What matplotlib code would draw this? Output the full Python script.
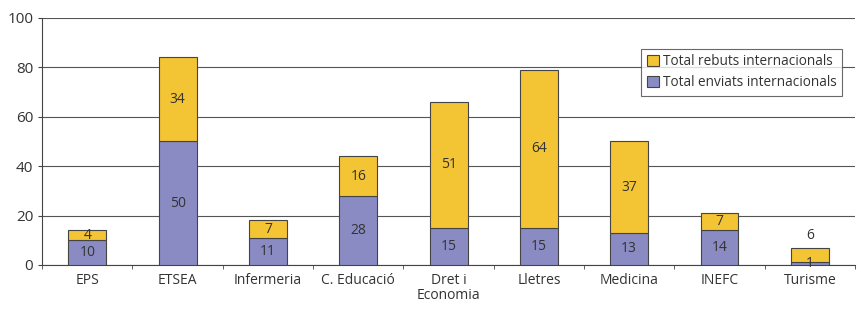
import numpy as np
import matplotlib.pyplot as plt

plt.rcParams['font.family'] = ['Open Sans', 'DejaVu Sans']

categories = ["EPS", "ETSEA", "Infermeria", "C. Educació", "Dret i\nEconomia",
              "Lletres", "Medicina", "INEFC", "Turisme"]
enviats = [10, 50, 11, 28, 15, 15, 13, 14, 1]
rebuts = [4, 34, 7, 16, 51, 64, 37, 7, 6]

yellow = "#F3C433"
purple = "#8A8BC3"
edge = "#444444"
txt = "#333333"

fig = plt.figure(figsize=(8.61, 3.15), dpi=100)
ax = fig.add_axes([0.049, 0.159, 0.944, 0.784])

x = np.arange(len(categories))
w = 0.42
ax.bar(x, enviats, w, color=purple, edgecolor=edge, linewidth=0.8, zorder=3,
       label="Total enviats internacionals")
ax.bar(x, rebuts, w, bottom=enviats, color=yellow, edgecolor=edge, linewidth=0.8,
       zorder=3, label="Total rebuts internacionals")

for i in range(len(categories)):
    ax.text(x[i], enviats[i] / 2, str(enviats[i]), ha="center", va="center",
            fontsize=10, color=txt, zorder=4)
    total = enviats[i] + rebuts[i]
    if total < 10:
        ax.text(x[i], total + 2, str(rebuts[i]), ha="center", va="bottom",
                fontsize=10, color=txt, zorder=4)
    else:
        ax.text(x[i], enviats[i] + rebuts[i] / 2, str(rebuts[i]), ha="center",
                va="center", fontsize=10, color=txt, zorder=4)

ax.set_xlim(-0.5, len(categories) - 0.5)
ax.set_ylim(0, 100)
ax.set_yticks(range(0, 101, 20))
ax.set_xticks(x)
ax.set_xticklabels(categories, fontsize=10, color=txt, linespacing=1.0)
ax.set_xticks(np.arange(-0.5, len(categories), 1), minor=True)
ax.tick_params(axis="x", which="major", length=0, pad=6)
ax.tick_params(axis="x", which="minor", length=3, direction="out", color=edge)
ax.tick_params(axis="y", labelsize=11, labelcolor=txt, length=3, color=edge)
ax.yaxis.grid(True, color="#555555", linewidth=0.8, zorder=0)
for s in ["top", "right"]:
    ax.spines[s].set_visible(False)
ax.spines["left"].set_color(edge)
ax.spines["bottom"].set_color(edge)

handles, labels = ax.get_legend_handles_labels()
leg = ax.legend(handles[::-1], labels[::-1], loc="upper left",
                bbox_to_anchor=(0.737, 0.875), fontsize=9.8, frameon=True,
                fancybox=False, edgecolor=edge, handlelength=0.9, handleheight=0.9,
                handletextpad=0.3, borderpad=0.4, labelspacing=0.45,
                borderaxespad=0)
leg.get_frame().set_linewidth(0.8)
for t in leg.get_texts():
    t.set_color(txt)
leg.set_zorder(5)

fig.savefig("out.png", dpi=100)
